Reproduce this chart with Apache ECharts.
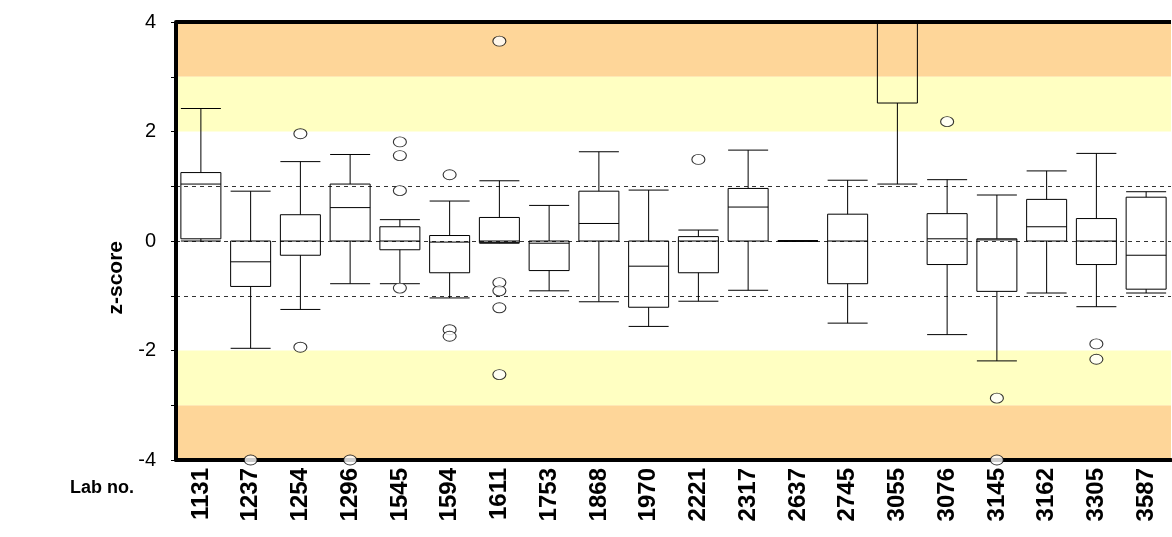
<html>
<head>
<meta charset="utf-8">
<script src="https://cdn.jsdelivr.net/npm/echarts@6/dist/echarts.min.js"></script>
<style>
  body { margin: 0; background: #fff; }
  #chart { width: 1172px; height: 537px; }
</style>
</head>
<body>
<div id="chart"></div>
<script>
var labs = ['1131','1237','1254','1296','1545','1594','1611','1753','1868','1970',
            '2221','2317','2637','2745','3055','3076','3145','3162','3305','3587'];
// [min, q1, median, q3, max]
var boxes = [
  [0.0, 0.04, 1.04, 1.25, 2.42],
  [-1.96, -0.83, -0.38, 0, 0.91],
  [-1.25, -0.26, 0, 0.48, 1.45],
  [-0.78, 0, 0.61, 1.04, 1.58],
  [-0.78, -0.16, 0, 0.26, 0.39],
  [-1.04, -0.58, -0.02, 0.1, 0.73],
  [-0.04, -0.03, 0, 0.43, 1.1],
  [-0.91, -0.54, -0.04, 0, 0.65],
  [-1.11, 0, 0.32, 0.91, 1.63],
  [-1.56, -1.21, -0.46, 0, 0.93],
  [-1.1, -0.58, 0, 0.08, 0.2],
  [-0.9, 0, 0.62, 0.96, 1.66],
  [0, 0, 0, 0, 0],
  [-1.5, -0.78, 0, 0.49, 1.11],
  [1.04, 2.52, 4, 4, 4],
  [-1.71, -0.43, 0.04, 0.5, 1.12],
  [-2.19, -0.92, 0.02, 0.04, 0.84],
  [-0.95, 0, 0.26, 0.76, 1.28],
  [-1.2, -0.43, 0, 0.41, 1.6],
  [-0.95, -0.88, -0.26, 0.8, 0.9]
];
// [lab, z]
var outliers = [
  ['1237', -4], ['1254', 1.96], ['1254', -1.94], ['1296', -4],
  ['1545', 1.81], ['1545', 1.56], ['1545', 0.92], ['1545', -0.86],
  ['1594', 1.21], ['1594', -1.62], ['1594', -1.74],
  ['1611', 3.65], ['1611', -0.76], ['1611', -0.91], ['1611', -1.22], ['1611', -2.44],
  ['2221', 1.49], ['3076', 2.18], ['3145', -2.87], ['3145', -4],
  ['3305', -1.88], ['3305', -2.16]
];
var yTicks = [-4, -2, 0, 2, 4];

var chart = echarts.init(document.getElementById('chart'));
var dash = { color: '#333', type: [4, 4], width: 1 };
chart.setOption({
  animation: false,
  grid: { left: 176, right: 1, top: 22, bottom: 77 },
  graphic: [
    { type: 'text', left: 70, top: 479, style: { text: 'Lab no.', font: 'bold 18px "Liberation Sans", Arial', fill: '#000' } },
    { type: 'text', left: 106, top: 241, rotation: Math.PI / 2, originX: 0, originY: 0,
      style: { text: 'z-score', font: 'bold 21px "Liberation Sans", Arial', fill: '#000', align: 'center', verticalAlign: 'middle' } }
  ],
  xAxis: {
    type: 'category', data: labs, z: 10,
    axisLine: { onZero: false, lineStyle: { color: '#000', width: 4 } },
    axisTick: { alignWithLabel: false, length: 7, lineStyle: { color: '#000', width: 1 } },
    axisLabel: { rotate: 90, color: '#000', fontWeight: 'bold', fontSize: 24, margin: 8,
                 fontFamily: '"Liberation Sans Narrow", "Liberation Sans", Arial' },
    splitLine: { show: false }
  },
  yAxis: {
    type: 'value', min: -4, max: 4, interval: 2, z: 10,
    axisLine: { show: true, lineStyle: { color: '#000', width: 4 } },
    axisTick: { show: true, length: 5, lineStyle: { color: '#000' } },
    minorTick: { show: true, splitNumber: 2, length: 5, lineStyle: { color: '#000' } },
    axisLabel: { color: '#000', fontSize: 20, margin: 20, fontFamily: '"Liberation Sans", Arial',
                 formatter: function (v) { return yTicks.indexOf(v) >= 0 ? String(v) : ''; } },
    splitLine: { show: false }
  },
  series: [
    {
      type: 'boxplot', data: boxes, boxWidth: [40, 40], z: 5,
      itemStyle: { color: 'transparent', borderColor: '#000', borderWidth: 1 },
      markArea: {
        silent: true,
        data: [
          [{ yAxis: 3, itemStyle: { color: '#fed699' } }, { yAxis: 4 }],
          [{ yAxis: -4, itemStyle: { color: '#fed699' } }, { yAxis: -3 }],
          [{ yAxis: 2, itemStyle: { color: '#ffffc2' } }, { yAxis: 3 }],
          [{ yAxis: -3, itemStyle: { color: '#ffffc2' } }, { yAxis: -2 }]
        ]
      },
      markLine: {
        silent: true, symbol: 'none', label: { show: false },
        lineStyle: dash,
        data: [{ yAxis: 1 }, { yAxis: 0 }, { yAxis: -1 }]
      }
    },
    {
      type: 'scatter', data: outliers, symbol: 'circle', symbolSize: [13, 10], z: 12,
      itemStyle: { color: '#fff', borderColor: '#000', borderWidth: 1 }
    },
    {
      type: 'line', data: [], markLine: {
        silent: true, symbol: 'none', label: { show: false },
        lineStyle: { color: '#000', width: 4, type: 'solid' },
        data: [{ yAxis: 4 }]
      }
    }
  ]
});
</script>
</body>
</html>
